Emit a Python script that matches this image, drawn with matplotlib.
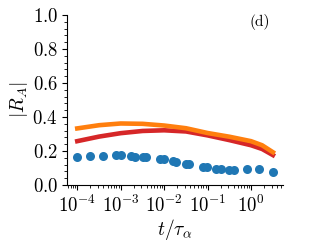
"""|R_A| против t/tau_alpha, панель (d)."""

import matplotlib.pyplot as plt
from matplotlib.ticker import AutoMinorLocator, LogLocator

plt.rcParams["font.family"] = "serif"
plt.rcParams["font.serif"] = ["cmr10"]
plt.rcParams["mathtext.fontset"] = "cm"
plt.rcParams["axes.formatter.use_mathtext"] = True

# Точки (синие)
t_dots = [1e-4, 2e-4, 4e-4, 8e-4, 1e-3, 1.74e-3, 2.1e-3, 3.2e-3, 3.9e-3,
          7.9e-3, 1e-2, 1.6e-2, 1.9e-2, 3.2e-2, 3.8e-2, 7.9e-2, 9.8e-2,
          0.16, 0.2, 0.32, 0.4, 0.79, 1.55, 3.16]
r_dots = [0.163, 0.171, 0.171, 0.176, 0.176, 0.171, 0.166, 0.165, 0.165,
          0.151, 0.151, 0.142, 0.138, 0.126, 0.124, 0.108, 0.103,
          0.097, 0.094, 0.091, 0.091, 0.092, 0.092, 0.076]

# Линии
t_line = [1e-4, 3.2e-4, 1e-3, 3.2e-3, 1e-2, 3.2e-2, 0.1, 0.32, 1.0, 1.8, 3.2]
r_red = [0.258, 0.285, 0.305, 0.318, 0.322, 0.315, 0.292, 0.264, 0.234, 0.212, 0.176]
r_orange = [0.333, 0.352, 0.362, 0.360, 0.350, 0.334, 0.306, 0.284, 0.258, 0.234, 0.193]

fig = plt.figure(figsize=(3.11, 2.47), dpi=100)
ax = fig.add_axes([0.217, 0.251, 0.692, 0.688])

ax.plot(t_dots, r_dots, "o", color="#1f77b4", ms=6.5, mew=0)
ax.plot(t_line, r_red, color="#d62728", lw=3.3)
ax.plot(t_line, r_orange, color="#ff7f0e", lw=3.3)

ax.set_xscale("log")
ax.xaxis.set_major_locator(LogLocator(base=10, numticks=20))
ax.xaxis.set_minor_locator(LogLocator(base=10, subs=range(2, 10), numticks=20))
ax.set_ylim(0, 1.0)
ax.set_yticks([0.0, 0.2, 0.4, 0.6, 0.8, 1.0])
ax.yaxis.set_minor_locator(AutoMinorLocator(5))
ax.tick_params(labelsize=13.5, direction="out")

ax.spines["top"].set_visible(False)
ax.spines["right"].set_visible(False)

ax.set_xlabel(r"$t/\tau_\alpha$", fontsize=14, labelpad=1)
ax.set_ylabel(r"$|R_A|$", fontsize=14, labelpad=2)
ax.text(0.895, 0.96, "(d)", transform=ax.transAxes, fontsize=11,
        ha="center", va="center")

fig.savefig("out.png", dpi=100)
